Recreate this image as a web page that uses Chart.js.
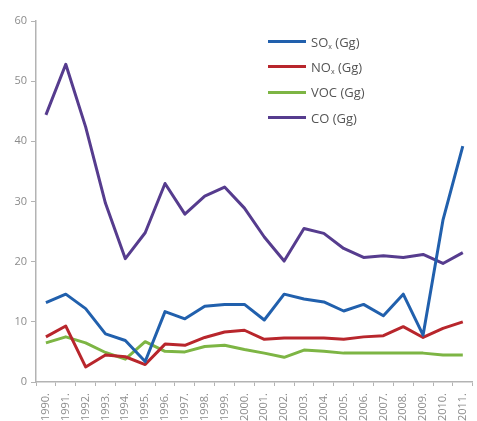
<!DOCTYPE html>
<html>
<head>
<meta charset="utf-8">
<script src="https://cdn.jsdelivr.net/npm/chart.js@4"></script>
<style>
    html, body { margin: 0; padding: 0; background: #fff; overflow: hidden; }
    #wrap { position: relative; width: 477px; height: 421px; overflow: hidden; }
    #legend { position: absolute; left: 268px; top: 29px; font-family: "Open Sans", sans-serif; font-size: 13px; color: #555; }
    #legend .row { height: 25.3px; display: flex; align-items: center; white-space: nowrap; }
    #legend .sw { width: 38px; height: 3px; margin-right: 5px; }
    #legend sub { font-size: 7px; vertical-align: -2px; line-height: 0; }
</style>
</head>
<body>
<div id="wrap">
    <canvas id="chart" width="483" height="421"></canvas>
    <div id="legend"></div>
</div>
<script>
// data
const years = ['1990.', '1991.', '1992.', '1993.', '1994.', '1995.', '1996.', '1997.', '1998.', '1999.', '2000.',
    '2001.', '2002.', '2003.', '2004.', '2005.', '2006.', '2007.', '2008.', '2009.', '2010.', '2011.'];
const so2 = [13.2, 14.6, 12.2, 8.0, 6.9, 3.4, 11.7, 10.5, 12.6, 12.9, 12.9, 10.3, 14.6, 13.8, 13.3, 11.8, 12.9, 11.0, 14.6, 7.8, 26.9, 39.2];
const nox = [7.5, 9.3, 2.5, 4.5, 4.2, 2.9, 6.3, 6.1, 7.4, 8.3, 8.6, 7.1, 7.3, 7.3, 7.3, 7.1, 7.5, 7.7, 9.2, 7.4, 8.9, 10.0];
const voc = [6.5, 7.5, 6.5, 4.9, 3.8, 6.7, 5.1, 5.0, 5.9, 6.1, 5.4, 4.8, 4.1, 5.3, 5.1, 4.8, 4.8, 4.8, 4.8, 4.8, 4.5, 4.5];
const co = [44.4, 52.8, 42.4, 29.7, 20.5, 24.8, 33.0, 27.9, 30.9, 32.4, 28.9, 24.1, 20.1, 25.5, 24.7, 22.2, 20.7, 21.0, 20.7, 21.2, 19.7, 21.5];
const yTicks = [0, 10, 20, 30, 40, 50, 60];

const seriesNames = ['SO<sub>x</sub> (Gg)', 'NO<sub>x</sub> (Gg)', 'VOC (Gg)', 'CO (Gg)'];
const seriesColors = ['#2160ad', '#b8262c', '#7db544', '#563c8e'];

document.addEventListener('DOMContentLoaded', () => {
    const axisColor = '#b3b3b3';
    const tickFont = { family: 'Open Sans', size: 11 };

    const datasets = [so2, nox, voc, co].map((vals, i) => ({
        label: seriesNames[i].replace(/<[^>]+>/g, ''),
        data: vals,
        borderColor: seriesColors[i],
        backgroundColor: seriesColors[i],
        borderWidth: 3,
        pointRadius: 0,
        tension: 0,
        borderJoinStyle: 'round',
        fill: false
    }));

    new Chart(document.getElementById('chart').getContext('2d'), {
        type: 'line',
        data: { labels: years, datasets: datasets },
        options: {
            responsive: false,
            animation: false,
            layout: { padding: { top: 21, left: 0, right: 0, bottom: 0 } },
            plugins: { legend: { display: false }, tooltip: { enabled: false } },
            scales: {
                x: {
                    offset: true,
                    grid: { offset: true, drawOnChartArea: false, tickLength: 4, color: axisColor, lineWidth: 1 },
                    border: { color: axisColor, width: 1.5 },
                    ticks: { minRotation: 90, maxRotation: 90, autoSkip: false, padding: 7, color: '#8c8c8c', font: tickFont },
                    afterFit: s => { s.height = 39; }
                },
                y: {
                    min: yTicks[0],
                    max: yTicks[yTicks.length - 1],
                    afterBuildTicks: s => { s.ticks = yTicks.map(v => ({ value: v })); },
                    grid: { drawOnChartArea: false, tickLength: 5, color: axisColor, lineWidth: 1 },
                    border: { color: axisColor, width: 1.5 },
                    ticks: { padding: 4, color: '#8c8c8c', font: tickFont },
                    afterFit: s => { s.width = 36; }
                }
            }
        }
    });

    // legend drawn in html so the subscripts stay real text
    const legend = document.getElementById('legend');
    seriesNames.forEach((name, i) => {
        const row = document.createElement('div');
        row.className = 'row';
        row.innerHTML = '<span class="sw" style="background:' + seriesColors[i] + '"></span><span>' + name + '</span>';
        legend.appendChild(row);
    });
});
</script>
</body>
</html>
